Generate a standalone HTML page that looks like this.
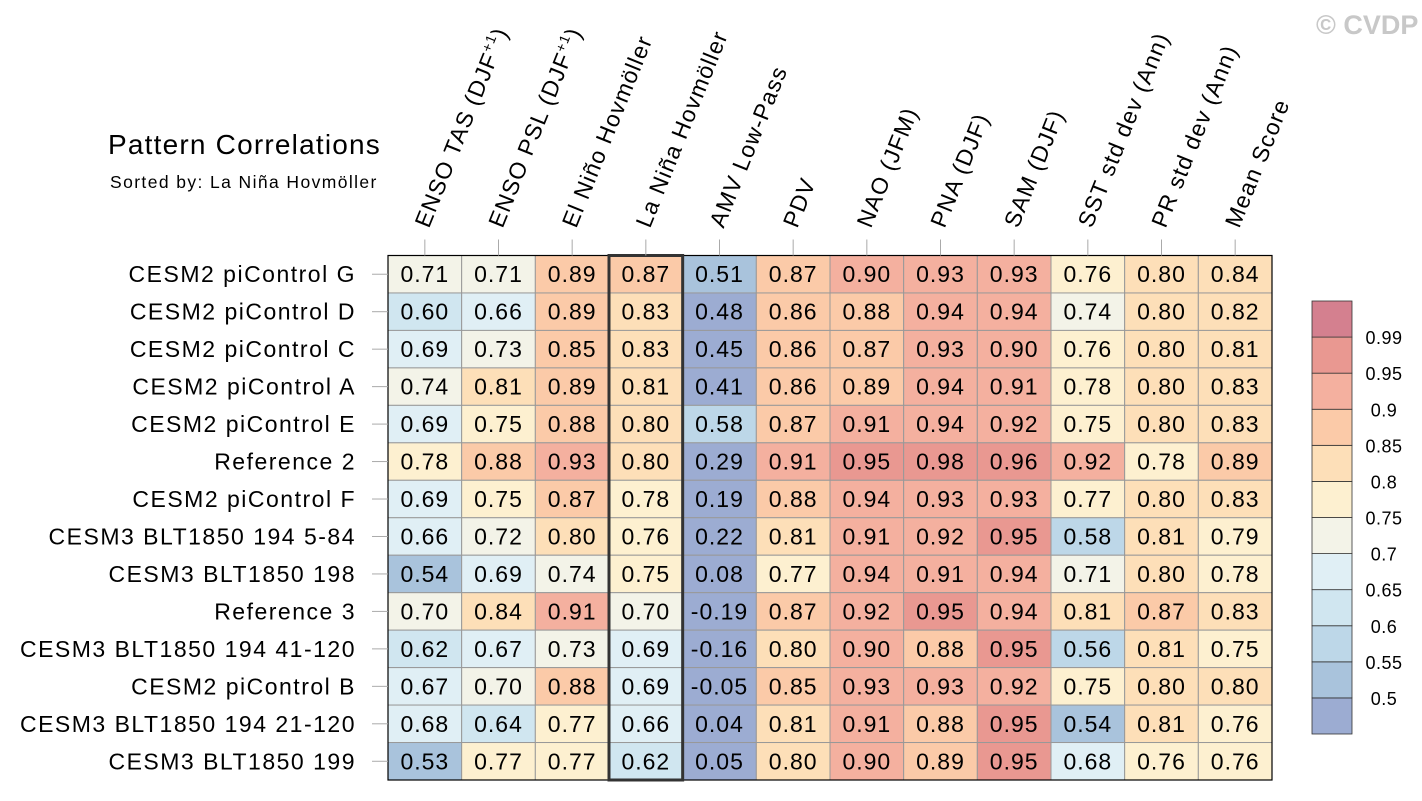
<!DOCTYPE html>
<html><head><meta charset="utf-8"><style>
body{margin:0;background:#fff;}
svg{display:block;font-family:"Liberation Sans",sans-serif;}
</style></head><body>
<svg id="chart" width="1422" height="801" viewBox="0 0 1422 801">
<text x="1316" y="34" font-size="27" font-weight="bold" fill="#c8c8c8">© CVDP</text>
<text x="108" y="154" font-size="28" letter-spacing="1.2" fill="#000">Pattern Correlations</text>
<text x="110" y="188" font-size="17.5" letter-spacing="1.4" fill="#000">Sorted by: La Niña Hovmöller</text>
<g id="cells"></g>
<g id="collabels"></g>
<g id="rowlabels"></g>
<g id="cbar"></g>
</svg>
<script>
const columns=["ENSO TAS (DJF|+1|)","ENSO PSL (DJF|+1|)","El Niño Hovmöller","La Niña Hovmöller","AMV Low-Pass","PDV","NAO (JFM)","PNA (DJF)","SAM (DJF)","SST std dev (Ann)","PR std dev (Ann)","Mean Score"];
const rows=["CESM2 piControl G","CESM2 piControl D","CESM2 piControl C","CESM2 piControl A","CESM2 piControl E","Reference 2","CESM2 piControl F","CESM3 BLT1850 194 5-84","CESM3 BLT1850 198","Reference 3","CESM3 BLT1850 194 41-120","CESM2 piControl B","CESM3 BLT1850 194 21-120","CESM3 BLT1850 199"];
const values=[
[0.71,0.71,0.89,0.87,0.51,0.87,0.90,0.93,0.93,0.76,0.80,0.84],
[0.60,0.66,0.89,0.83,0.48,0.86,0.88,0.94,0.94,0.74,0.80,0.82],
[0.69,0.73,0.85,0.83,0.45,0.86,0.87,0.93,0.90,0.76,0.80,0.81],
[0.74,0.81,0.89,0.81,0.41,0.86,0.89,0.94,0.91,0.78,0.80,0.83],
[0.69,0.75,0.88,0.80,0.58,0.87,0.91,0.94,0.92,0.75,0.80,0.83],
[0.78,0.88,0.93,0.80,0.29,0.91,0.95,0.98,0.96,0.92,0.78,0.89],
[0.69,0.75,0.87,0.78,0.19,0.88,0.94,0.93,0.93,0.77,0.80,0.83],
[0.66,0.72,0.80,0.76,0.22,0.81,0.91,0.92,0.95,0.58,0.81,0.79],
[0.54,0.69,0.74,0.75,0.08,0.77,0.94,0.91,0.94,0.71,0.80,0.78],
[0.70,0.84,0.91,0.70,-0.19,0.87,0.92,0.95,0.94,0.81,0.87,0.83],
[0.62,0.67,0.73,0.69,-0.16,0.80,0.90,0.88,0.95,0.56,0.81,0.75],
[0.67,0.70,0.88,0.69,-0.05,0.85,0.93,0.93,0.92,0.75,0.80,0.80],
[0.68,0.64,0.77,0.66,0.04,0.81,0.91,0.88,0.95,0.54,0.81,0.76],
[0.53,0.77,0.77,0.62,0.05,0.80,0.90,0.89,0.95,0.68,0.76,0.76]];
const levels=[0.5,0.55,0.6,0.65,0.7,0.75,0.8,0.85,0.9,0.95,0.99];
const colors=["#9cacd2","#a9c3dc","#bdd7e8","#d0e6f0","#e0eff5","#f3f3e8","#fdf0d0","#fddfb8","#fbcaa8","#f4b09f","#e99891","#d4808f"];
const sortedCol=3;

const NS="http://www.w3.org/2000/svg";
const gx0=388,gx1=1272,gy0=255.5,gy1=780;
const cw=(gx1-gx0)/columns.length, rh=(gy1-gy0)/rows.length;
function xAt(i){return gx0+i*cw;}
function yAt(j){return gy0+j*rh;}
function colorFor(v){let k=0;for(let i=0;i<levels.length;i++){if(v>=levels[i]-1e-9)k=i+1;}return colors[k];}
function mk(tag,attrs,parent){const e=document.createElementNS(NS,tag);for(const k in attrs)e.setAttribute(k,attrs[k]);parent.appendChild(e);return e;}

const cells=document.getElementById('cells');
rows.forEach((r,j)=>{
  values[j].forEach((v,i)=>{
    const rc=mk('rect',{x:xAt(i),y:yAt(j),width:cw,height:rh,fill:colorFor(v),stroke:'#999','stroke-width':1},cells);
    
    
    const t=mk('text',{x:xAt(i)+cw/2,y:yAt(j)+rh/2+8,'font-size':23,'letter-spacing':1,'text-anchor':'middle',fill:'#000'},cells);
    t.textContent=v.toFixed(2);
    
    
  });
});
const fr=mk('rect',{x:gx0,y:gy0,width:gx1-gx0,height:gy1-gy0,fill:'none',stroke:'#000','stroke-width':1.2},cells);


const hb=mk('rect',{x:xAt(sortedCol),y:gy0,width:cw,height:gy1-gy0,fill:'none',stroke:'#333','stroke-width':3},cells);



const cl=document.getElementById('collabels');
columns.forEach((c,i)=>{
  const cx=xAt(i)+cw/2;
  mk('line',{x1:cx,y1:gy0,x2:cx,y2:gy0-16,stroke:'#aaa','stroke-width':1},cl);
  const t=mk('text',{x:0,y:0,'font-size':23,'letter-spacing':1.2,fill:'#000',transform:`translate(${cx+4},${229}) rotate(-68)`},cl);
  const parts=c.split('|');
  parts.forEach((p,k)=>{
    const s=mk('tspan',k===1?{'font-size':14,dy:-9}:(k===2?{dy:9}:{}),t);
    s.textContent=p;
  });
  
  
});
const rl=document.getElementById('rowlabels');
rows.forEach((r,j)=>{
  const cy=yAt(j)+rh/2;
  mk('line',{x1:gx0,y1:cy,x2:gx0-16,y2:cy,stroke:'#aaa','stroke-width':1},rl);
  const t=mk('text',{x:356,y:cy+8,'font-size':23,'letter-spacing':1.5,'text-anchor':'end',fill:'#000'},rl);
  t.textContent=r;
  
  
});
const cb=document.getElementById('cbar');
const bx=1312,bw=40,by0=301,by1=734,bh=(by1-by0)/colors.length;
colors.forEach((c,k)=>{
  const y=by1-(k+1)*bh;
  const r=mk('rect',{x:bx,y:y,width:bw,height:bh,fill:c,stroke:'#333','stroke-width':0.8},cb);
  
  
});
levels.forEach((l,k)=>{
  const y=by1-(k+1)*bh;
  const t=mk('text',{x:1384,y:y+7,'font-size':18,'letter-spacing':0.5,'text-anchor':'middle',fill:'#000'},cb);
  t.textContent=String(l);
  
  
});
</script>
</body></html>
